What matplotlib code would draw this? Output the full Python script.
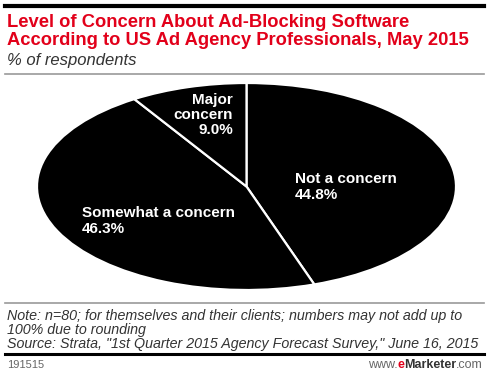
import matplotlib.pyplot as plt

# data
labels = ['Not a concern', 'Somewhat a concern', 'Major\nconcern']
values = [44.8, 46.3, 9.0]

title = 'Level of Concern About Ad-Blocking Software\nAccording to US Ad Agency Professionals, May 2015'
subtitle = '% of respondents'
note = ('Note: n=80; for themselves and their clients; numbers may not add up to\n'
        '100% due to rounding\n'
        'Source: Strata, "1st Quarter 2015 Agency Forecast Survey," June 16, 2015')

plt.rcParams['font.family'] = ['Liberation Sans', 'DejaVu Sans']

W, H = 488, 375
fig = plt.figure(figsize=(W / 100, H / 100), dpi=100)


def fx(x):
    return x / W


def fy(y):
    return 1 - y / H


# pie stretched into an ellipse
ax = fig.add_axes([fx(37), fy(290), fx(456) - fx(37), fy(83) - fy(290)])
ax.pie(values, startangle=90, counterclock=False, colors=['black'] * 3,
       wedgeprops=dict(edgecolor='white', linewidth=1.6))
ax.set_aspect('auto')
ax.set_xlim(-1, 1)
ax.set_ylim(-1, 1)
ax.axis('off')

# slice labels
lab_style = dict(color='white', fontsize=11, fontweight='bold', linespacing=1.1)
fig.text(fx(295), fy(187), f'{labels[0]}\n{values[0]:.1f}%', ha='left', va='center', **lab_style)
fig.text(fx(82), fy(221), f'{labels[1]}\n{values[1]:.1f}%', ha='left', va='center', **lab_style)
fig.text(fx(233), fy(115), f'{labels[2]}\n{values[2]:.1f}%', ha='right', va='center', **lab_style)

# header
fig.add_artist(plt.Line2D([fx(5), fx(484)], [fy(6), fy(6)], color='black', lw=3))
fig.text(fx(7), fy(14), title, ha='left', va='top', color='#e2001a', fontsize=13.2,
         fontweight='bold', linespacing=1.08)
fig.text(fx(7), fy(61), subtitle, ha='left', va='center', color='#333333', fontsize=12,
         style='italic')
fig.add_artist(plt.Line2D([fx(5), fx(484)], [fy(74), fy(74)], color='#999999', lw=1.2))

# footer
fig.add_artist(plt.Line2D([fx(5), fx(484)], [fy(303), fy(303)], color='#999999', lw=1.2))
fig.text(fx(7), fy(309), note, ha='left', va='top', color='#333333', fontsize=10.3,
         style='italic', linespacing=1.0)
fig.add_artist(plt.Line2D([fx(5), fx(484)], [fy(354), fy(354)], color='black', lw=2.2))
fig.text(fx(7), fy(365), '191515', ha='left', va='center', color='#666666', fontsize=8)

# brand text built from the right
r = fig.canvas.get_renderer()
x = fx(483)
for s, c, w in [('.com', '#666666', 'normal'), ('Marketer', '#333333', 'bold'),
                ('e', '#e2001a', 'bold'), ('www.', '#666666', 'normal')]:
    t = fig.text(x, fy(365), s, ha='right', va='center', color=c, fontsize=9, fontweight=w)
    bb = t.get_window_extent(renderer=r)
    x -= bb.width / fig.bbox.width

fig.savefig('out.png', dpi=100)
